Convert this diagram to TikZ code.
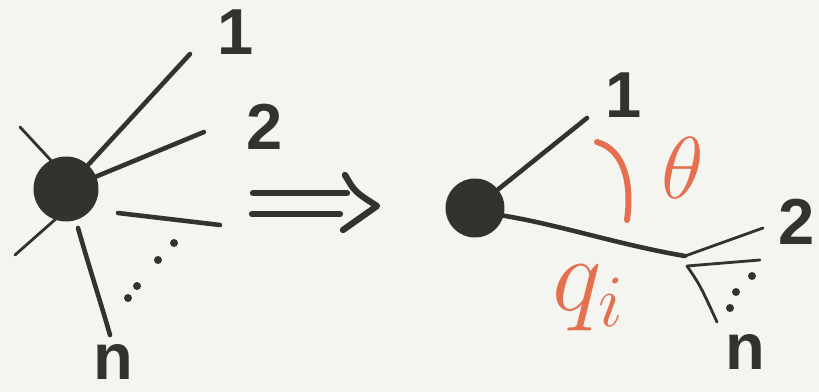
\RequirePackage{fix-cm}
\documentclass[tikz,border=0pt]{standalone}
\usepackage{fontspec}
\setmainfont{Liberation Sans}
\usepackage{xcolor}
\usepackage{tikz}
\usetikzlibrary{positioning, calc}

\definecolor{paper}{HTML}{F4F4F0}
\definecolor{inkgray}{HTML}{33322E}
\definecolor{accent}{HTML}{E5704F}

\begin{document}
\begin{tikzpicture}[
    x=0.02cm, y=-0.02cm,
    ink/.style={draw=inkgray, line width=2.6pt, line cap=round},
    fine/.style={draw=inkgray, line width=1.6pt, line cap=round},
    bold/.style={draw=inkgray, line width=3.6pt, line cap=round, line join=round},
    blob/.style={circle, fill=inkgray, inner sep=0pt},
    lbl/.style={text=inkgray, inner sep=0pt, font=\fontsize{37}{44}\selectfont\bfseries},
    redlbl/.style={text=accent, inner sep=0pt, font=\fontsize{50}{60}\selectfont},
    dotpt/.style={circle, fill=inkgray, minimum size=0.16cm, inner sep=0pt}
  ]
  \fill[paper] (0,0) rectangle (819,392);
  \useasboundingbox (0,0) rectangle (819,392);

  % left: star of n lines
  \coordinate (lb1) at (20,127);
  \coordinate (lb2) at (15,255);
  \coordinate (l1) at (190,54);
  \coordinate (l2) at (204,132);
  \coordinate (s3) at (118,213);
  \coordinate (l3) at (220,225);
  \coordinate (sn) at (78,228);
  \coordinate (ln) at (110,335);
  \draw[fine] (lb1) -- (58,168);
  \draw[fine] (lb2) -- (58,217);
  \node[blob, minimum size=1.3cm] (lblob) at (66,189) {};
  \draw[ink] (lblob) -- (l1);
  \draw[ink] (lblob) -- (l2);
  \draw[ink] (s3) -- (l3);
  \draw[ink] (sn) .. controls (90,270) and (100,300) .. (ln);
  \node[dotpt] (ld1) at (174,243) {};
  \node[dotpt] (ld2) at (158,260) {};
  \node[dotpt] (ld3) at (137,286) {};
  \node[dotpt] (ld4) at (128,298) {};
  \node[lbl] (lone) at (236,32) {1};
  \node[lbl] (ltwo) at (265,127) {2};
  \node[lbl] (lnn) at (113,362) {n};

  % implies arrow
  \draw[bold] (253,193) -- (347,193);
  \draw[bold] (252,214) -- (340,214);
  \draw[bold] (345,175) .. controls (355,192) .. (377,206) -- (343,230);

  % right: collapsed branch
  \coordinate (r1) at (587,118);
  \coordinate (r2) at (763,228);
  \coordinate (r3) at (760,260);
  \coordinate (rn) at (717,322);
  \node[blob, minimum size=1.18cm] (rblob) at (475,208) {};
  \coordinate (junc) at (685,256);
  \draw[ink] (rblob) -- (r1);
  \draw[ink] (rblob.-15) .. controls (560,225) and (620,245) .. (junc);
  \draw[fine] (junc) -- (r2);
  \draw[fine] (junc) ++(2,10) -- (r3);
  \draw[fine] (junc) ++(2,10) .. controls (700,285) .. (rn);
  \node[dotpt] (rd1) at (752,276) {};
  \node[dotpt] (rd2) at (736,292) {};
  \node[dotpt] (rd3) at (730,308) {};
  \node[lbl] (rone) at (624,95) {1};
  \node[lbl] (rtwo) at (797,222) {2};
  \node[lbl] (rnn) at (745,352) {n};

  % angle and momentum
  \draw[accent, line width=3.4pt, line cap=round] (597,142) .. controls (625,150) and (632,185) .. (627,220);
  \node[redlbl] (theta) at (683,168) {$\theta$};
  \node[redlbl, font=\fontsize{60}{72}\selectfont] (qi) at (588,298) {$q_i$};
\end{tikzpicture}
\end{document}
